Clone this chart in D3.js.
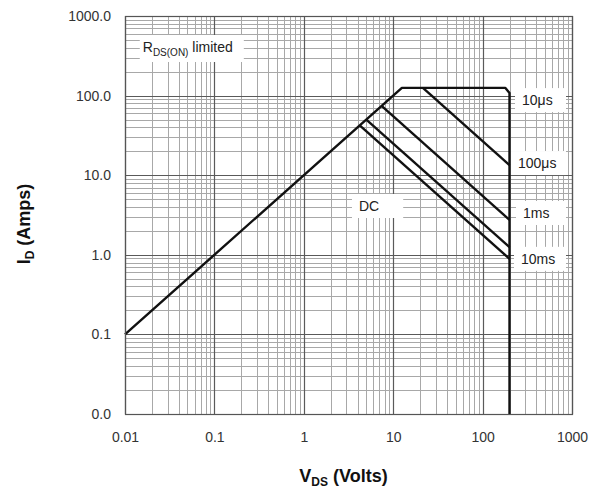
<!DOCTYPE html>
<html>
<head>
<meta charset="utf-8">
<script src="https://cdn.jsdelivr.net/npm/d3@7"></script>
<style>
  body { margin: 0; background: #fff; }
  text { font-family: "Liberation Sans", Arial, sans-serif; }
</style>
</head>
<body>
<svg id="chart"></svg>
<script>
// tick values and their printed labels
var xTicks = [0.01, 0.1, 1, 10, 100, 1000];
var xTickLabels = ["0.01", "0.1", "1", "10", "100", "1000"];
var yTicks = [0.01, 0.1, 1, 10, 100, 1000];
var yTickLabels = ["0.0", "0.1", "1.0", "10.0", "100.0", "1000.0"];

// SOA boundaries: V (volts) and I (amps)
var seriesNames = ["10\u03bcs", "100\u03bcs", "1ms", "10ms", "DC"];
var seriesV = [
  [0.01, 12.5, 180, 200, 200],
  [21.5, 200],
  [7.42, 200],
  [5.0, 200],
  [4.22, 200]
];
var seriesI = [
  [0.1, 125, 125, 108, 0.01],
  [125, 13.4],
  [74.2, 2.75],
  [50, 1.25],
  [42.2, 0.89]
];

// label anchors (data coords) for the curve names
var labelV = [276, 249, 283, 269, 4.14];
var labelI = [76, 12.3, 2.9, 0.77, 3.55];

var width = 600, height = 494;
var margin = {top: 16, right: 28, bottom: 80, left: 125};

var svg = d3.select("#chart")
  .attr("width", width)
  .attr("height", height);

var x = d3.scaleLog()
  .domain([0.01, 1000])
  .range([margin.left, width - margin.right]);

var y = d3.scaleLog()
  .domain([0.01, 1000])
  .range([height - margin.bottom, margin.top]);

// minor grid values 2..9 in each decade
var minor = [];
for (var d = 0.01; d < 999; d *= 10) {
  for (var m = 2; m <= 9; m++) minor.push(+(d * m).toPrecision(3));
}

var grid = svg.append("g");

grid.selectAll(".vminor").data(minor).enter().append("line")
  .attr("x1", function(d) { return Math.round(x(d)) + 0.5; })
  .attr("x2", function(d) { return Math.round(x(d)) + 0.5; })
  .attr("y1", y(1000)).attr("y2", y(0.01))
  .attr("stroke", "#a8a8a8").attr("stroke-width", 1);

grid.selectAll(".hminor").data(minor).enter().append("line")
  .attr("y1", function(d) { return Math.round(y(d)) + 0.5; })
  .attr("y2", function(d) { return Math.round(y(d)) + 0.5; })
  .attr("x1", x(0.01)).attr("x2", x(1000))
  .attr("stroke", "#a8a8a8").attr("stroke-width", 1);

grid.selectAll(".vmajor").data(xTicks).enter().append("line")
  .attr("x1", function(d) { return Math.round(x(d)) + 0.5; })
  .attr("x2", function(d) { return Math.round(x(d)) + 0.5; })
  .attr("y1", y(1000)).attr("y2", y(0.01))
  .attr("stroke", "#5a5a5a").attr("stroke-width", 1.2);

grid.selectAll(".hmajor").data(yTicks).enter().append("line")
  .attr("y1", function(d) { return Math.round(y(d)) + 0.5; })
  .attr("y2", function(d) { return Math.round(y(d)) + 0.5; })
  .attr("x1", x(0.01)).attr("x2", x(1000))
  .attr("stroke", "#5a5a5a").attr("stroke-width", 1.2);

// white boxes behind labels (knock out the grid)
var boxes = svg.append("g");

var line = d3.line()
  .x(function(d) { return x(d[0]); })
  .y(function(d) { return y(d[1]); });

svg.append("g").selectAll("path")
  .data(seriesV.map(function(v, k) { return d3.zip(v, seriesI[k]); }))
  .enter().append("path")
  .attr("d", line)
  .attr("fill", "none")
  .attr("stroke", "#111")
  .attr("stroke-width", 2.4)
  .attr("stroke-linejoin", "round");

// axes
var xAxis = d3.axisBottom(x)
  .tickValues(xTicks)
  .tickFormat(function(d, i) { return xTickLabels[i]; })
  .tickSize(0).tickPadding(18);

svg.append("g")
  .attr("transform", "translate(0," + y(0.01) + ")")
  .call(xAxis)
  .call(function(g) { g.select(".domain").remove(); })
  .selectAll("text")
  .attr("font-size", 14).attr("fill", "#333")
  .style("font-family", "Liberation Sans, Arial, sans-serif");

var yAxis = d3.axisLeft(y)
  .tickValues(yTicks)
  .tickFormat(function(d, i) { return yTickLabels[i]; })
  .tickSize(0).tickPadding(14);

svg.append("g")
  .attr("transform", "translate(" + x(0.01) + ",0)")
  .call(yAxis)
  .call(function(g) { g.select(".domain").remove(); })
  .selectAll("text")
  .attr("font-size", 14).attr("fill", "#333")
  .style("font-family", "Liberation Sans, Arial, sans-serif");

// curve labels
var labels = svg.append("g");
seriesNames.forEach(function(name, k) {
  var tx = x(labelV[k]), ty = y(labelI[k]);
  var t = labels.append("text")
    .attr("x", tx).attr("y", ty)
    .attr("font-size", 14).attr("fill", "#222")
    .text(name);
  var b = t.node().getBBox();
  var x0 = b.x - 7, x1 = (k < 4) ? x(1000) - 6 : b.x + b.width + 24;
  boxes.append("rect")
    .attr("x", x0).attr("y", b.y - 4)
    .attr("width", x1 - x0).attr("height", b.height + 8)
    .attr("fill", "#fff");
});

// RDS(on) limited note
var rt = labels.append("text")
  .attr("x", x(0.0158)).attr("y", y(353))
  .attr("font-size", 14).attr("fill", "#222");
rt.append("tspan").text("R");
rt.append("tspan").attr("font-size", 10).attr("dy", 4).text("DS(ON)");
rt.append("tspan").attr("dy", -4).text(" limited");
var rb = rt.node().getBBox();
boxes.append("rect")
  .attr("x", rb.x - 3).attr("y", rb.y - 4)
  .attr("width", rb.width + 14).attr("height", rb.height + 8)
  .attr("fill", "#fff");

// frame
svg.append("rect")
  .attr("x", x(0.01) + 0.5).attr("y", y(1000) + 0.5)
  .attr("width", x(1000) - x(0.01)).attr("height", y(0.01) - y(1000))
  .attr("fill", "none").attr("stroke", "#555").attr("stroke-width", 1.2);

// axis titles
var xt = svg.append("text")
  .attr("x", (x(0.01) + x(1000)) / 2 - 5).attr("y", 482)
  .attr("text-anchor", "middle")
  .attr("font-size", 18).attr("font-weight", "bold").attr("fill", "#111");
xt.append("tspan").text("V");
xt.append("tspan").attr("font-size", 12).attr("dy", 4).text("DS");
xt.append("tspan").attr("dy", -4).text(" (Volts)");

var yt = svg.append("text")
  .attr("transform", "translate(30," + 224 + ") rotate(-90)")
  .attr("text-anchor", "middle")
  .attr("font-size", 18).attr("font-weight", "bold").attr("fill", "#111");
yt.append("tspan").text("I");
yt.append("tspan").attr("font-size", 12).attr("dy", 4).text("D");
yt.append("tspan").attr("dy", -4).text(" (Amps)");
</script>
</body>
</html>
